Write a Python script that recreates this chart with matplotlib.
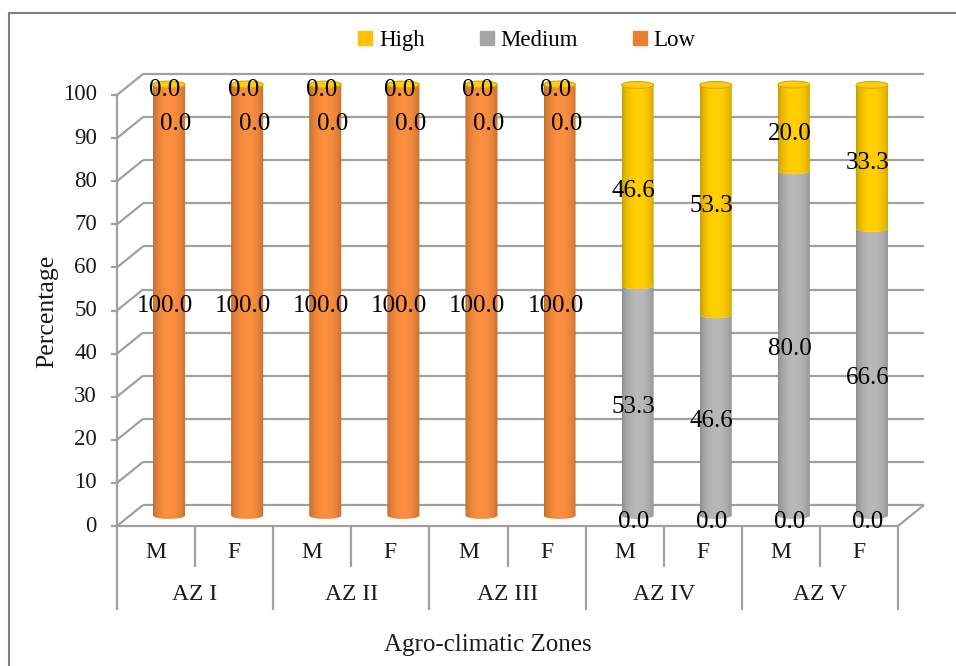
import numpy as np
import matplotlib
matplotlib.use("Agg")
import matplotlib.pyplot as plt
from matplotlib.transforms import ScaledTranslation, IdentityTransform
from matplotlib.path import Path
from matplotlib.patches import PathPatch
from matplotlib.lines import Line2D

# ---- data -------------------------------------------------------------
zones = ["AZ I", "AZ II", "AZ III", "AZ IV", "AZ V"]
sexes = ["M", "F"]
low = [100.0, 100.0, 100.0, 100.0, 100.0, 100.0, 0.0, 0.0, 0.0, 0.0]
medium = [0.0, 0.0, 0.0, 0.0, 0.0, 0.0, 53.3, 46.6, 80.0, 66.6]
high = [0.0, 0.0, 0.0, 0.0, 0.0, 0.0, 46.6, 53.3, 20.0, 33.3]
y_ticks = list(range(0, 101, 10))
legend_order = ["High", "Medium", "Low"]

# ---- styling ------------------------------------------------------------
SERIF = "Liberation Serif"
plt.rcParams["font.family"] = [SERIF, "DejaVu Serif"]
legend_colors = {"High": "#FFC000", "Medium": "#A5A5A5", "Low": "#ED7D31"}
body_colors = {"High": (1.0, 0.80, 0.0), "Medium": (0.71, 0.71, 0.71),
               "Low": (0.97, 0.55, 0.24)}
GRID = "#A0A0A0"
TEXT = "#1a1a1a"

W, H, DPI = 956, 666, 100
fig = plt.figure(figsize=(W / DPI, H / DPI), dpi=DPI)

# main axes = mid-depth plane of the 3-D box
PX_PER_UNIT = 4.31
Y_LO, Y_HI = -10, 110
zero_px = 515.5
ax_bottom_px = zero_px + (-Y_LO) * PX_PER_UNIT
ax_top_px = zero_px - Y_HI * PX_PER_UNIT
ax = fig.add_axes([130 / W, (H - ax_bottom_px) / H, 781 / W,
                   (ax_bottom_px - ax_top_px) / H])
ax.set_xlim(-0.5, 9.5)
ax.set_ylim(Y_LO, Y_HI)
ax.axis("off")

DX, DY = 13, 10.5


def shifted(dx, dy):
    return ax.transData + ScaledTranslation(dx / DPI, dy / DPI, fig.dpi_scale_trans)


front = shifted(-DX, -DY)
back = shifted(DX, DY)
line_kw = dict(color=GRID, lw=1.6, solid_capstyle="butt")


def seg(p, q, **kw):
    style = dict(line_kw)
    style.update(kw)
    fig.add_artist(Line2D([p[0], q[0]], [p[1], q[1]],
                          transform=IdentityTransform(), **style))


n = len(low)
x_lo, x_hi = -0.5, n - 0.5

# back wall gridlines and left-side depth lines
for v in y_ticks:
    ax.plot([x_lo, x_hi], [v, v], transform=back, clip_on=False, zorder=1, **line_kw)
    seg(front.transform((x_lo, v)), back.transform((x_lo, v)), zorder=1)

# floor front edge and right side
ax.plot([x_lo, x_hi], [0, 0], transform=front, clip_on=False, zorder=1, **line_kw)
seg(front.transform((x_hi, 0)), back.transform((x_hi, 0)), zorder=1)

# value axis on the front plane
ax.plot([x_lo, x_lo], [0, 100], transform=front, clip_on=False, zorder=1, **line_kw)
for v in y_ticks:
    p = front.transform((x_lo, v))
    seg((p[0] - 6, p[1]), p, zorder=1)
    ax.text(x_lo, v, f"{v}", transform=shifted(-DX - 20, -DY), ha="right",
            va="center", fontsize=16.5, color=TEXT)

# two-level category axis
for k in range(n + 1):
    p = front.transform((x_lo + k, 0))
    depth = 84 if k % 2 == 0 else 41
    seg(p, (p[0], p[1] - depth), zorder=1)
for i in range(n):
    ax.text(i, 0, sexes[i % 2], transform=shifted(-DX, -DY - 27), ha="center",
            va="center", fontsize=17, color=TEXT)
for j, z in enumerate(zones):
    ax.text(2 * j + 0.5, 0, z, transform=shifted(-DX, -DY - 69), ha="center",
            va="center", fontsize=17, color=TEXT)

# ---- cylinders ----------------------------------------------------------
A = 0.205   # radius across, in category units
B = 0.8     # ellipse half-height, in value units
theta = np.linspace(np.pi, 2 * np.pi, 50)
u = np.linspace(0, 1, 64)
shade = 0.76 + 0.26 * np.sin(np.pi * u) ** 0.6


def body_path(cx, y0, y1):
    xs = cx + A * np.cos(theta)
    yb = y0 + B * np.sin(theta)
    yt = y1 + B * np.sin(theta)
    verts = np.concatenate([np.c_[xs, yb], np.c_[xs[::-1], yt[::-1]], [[xs[0], yb[0]]]])
    codes = [Path.MOVETO] + [Path.LINETO] * (len(verts) - 2) + [Path.CLOSEPOLY]
    return Path(verts, codes)


def shaded(color):
    rgb = np.clip(np.outer(shade, color), 0, 1)
    return rgb[np.newaxis, :, :]


series = [("Low", low), ("Medium", medium), ("High", high)]
bottoms = np.zeros(n)
for name, vals in series:
    vals = np.asarray(vals)
    for i in range(n):
        if vals[i] <= 0:
            continue
        y0, y1 = bottoms[i], bottoms[i] + vals[i]
        patch = PathPatch(body_path(i, y0, y1), facecolor="none", edgecolor="none")
        ax.add_patch(patch)
        im = ax.imshow(shaded(body_colors[name]), extent=[i - A, i + A, y0 - B, y1 + B],
                       aspect="auto", interpolation="bilinear", zorder=3)
        im.set_clip_path(patch)
    bottoms = bottoms + vals

# top caps carry the colour of the top series
tt = np.linspace(0, 2 * np.pi, 80)
for i in range(n):
    top = bottoms[i]
    cap = Path(np.c_[i + A * np.cos(tt), top + B * np.sin(tt)])
    ax.add_patch(PathPatch(cap, facecolor="#FFCC10", edgecolor="#D9A800",
                           lw=0.8, zorder=4))

# ---- value labels ---------------------------------------------------------
bottoms = np.zeros(n)
for name, vals in series:
    for i, v in enumerate(vals):
        dx, dy = -4, -6
        if v == 0 and name == "Medium" and bottoms[i] > 0:
            dx, dy = 7, -39
        ax.annotate(f"{v:.1f}", (i, bottoms[i] + v / 2), xytext=(dx, dy),
                    textcoords="offset pixels", ha="center", va="center",
                    fontsize=18, color="black", zorder=10)
    bottoms = bottoms + np.asarray(vals)

# ---- titles, legend, frame ----------------------------------------------
fig.text(47 / W, 1 - 311 / H, "Percentage", rotation=90, ha="center", va="center",
         fontsize=18.5, color=TEXT)
fig.text(488 / W, 1 - 645 / H, "Agro-climatic Zones", ha="center", va="center",
         fontsize=18, color=TEXT)

handles = [Line2D([], [], marker="s", ls="", color=legend_colors[k], markersize=10)
           for k in legend_order]
fig.legend(handles, legend_order, loc="center", bbox_to_anchor=(526 / W, 1 - 40 / H),
           ncol=3, frameon=False, prop={"family": SERIF, "size": 16.5},
           handletextpad=0.2, columnspacing=2.3, handlelength=0.8)

frame_kw = dict(color="#7F7F7F", lw=1.5, transform=fig.transFigure)
fig.add_artist(Line2D([9 / W, 1], [1 - 13 / H, 1 - 13 / H], **frame_kw))
fig.add_artist(Line2D([9 / W, 9 / W], [1 - 13 / H, 0], **frame_kw))

fig.savefig("out.png", dpi=DPI, facecolor="white")
